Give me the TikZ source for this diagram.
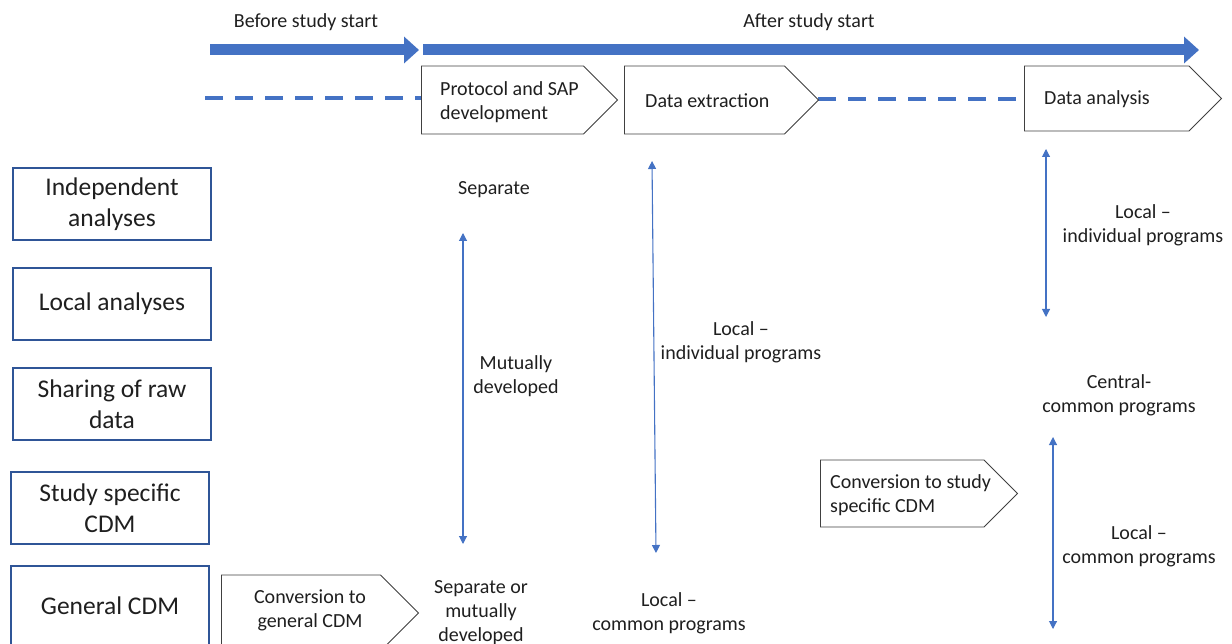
\documentclass[tikz,border=0pt]{standalone}
\usepackage{fontspec}
\setmainfont{Carlito}
\usetikzlibrary{arrows.meta, positioning, shapes.symbols}
\definecolor{barblue}{HTML}{4472C4}
\definecolor{boxblue}{HTML}{2F5597}
\definecolor{inkgray}{HTML}{1F1F1F}
\tikzset{
    txt/.style={font=\fontsize{20}{24}\selectfont, text=inkgray, align=center, inner sep=0pt},
    rowbox/.style={draw=boxblue, line width=2.5pt, minimum width=198pt, minimum height=72pt,
        font=\fontsize{25.5}{31}\selectfont, text=inkgray, align=center},
    stage/.style={signal, signal to=east, signal pointer angle=90, draw=black!75,
        line width=0.9pt, fill=white, anchor=west, minimum height=68pt, inner sep=0pt},
    thickbar/.style={barblue, line width=11pt, -{Triangle[length=15pt, width=26pt]}},
    dashbar/.style={barblue, line width=4.5pt, dash pattern=on 18pt off 12pt},
    twoway/.style={barblue, line width=1.1pt, {Triangle[length=8pt, width=8pt]}-{Triangle[length=8pt, width=8pt]}},
}

\begin{document}
\begin{tikzpicture}[x=1pt, y=-1pt]
    \useasboundingbox (0, 0) rectangle (1232, 644);

    % time line
    \node[txt] (before) at (306, 22) {Before study start};
    \node[txt] (after) at (809, 22) {After study start};
    \coordinate (b0) at (210, 50);
    \coordinate (b1) at (419, 50);
    \coordinate (a0) at (423, 50);
    \coordinate (a1) at (1199, 50);
    \draw[thickbar] (b0) -- (b1);
    \draw[thickbar] (a0) -- (a1);

    % dashed track
    \coordinate (d0) at (205, 98);
    \coordinate (d1) at (421, 98);
    \coordinate (d2) at (818, 99);
    \coordinate (d3) at (1036, 99);
    \draw[dashbar] (d0) -- (d1);
    \draw[dashbar] (d2) -- (d3);

    % stages
    \node[stage, minimum width=196pt] (proto) at (421, 100) {};
    \node[stage, minimum width=194pt] (extract) at (624, 100) {};
    \node[stage, minimum width=197pt, minimum height=65pt] (analysis) at (1024, 98.5) {};
    \node[stage, minimum width=197pt, minimum height=67pt] (convstudy) at (820, 493.5) {};
    \node[stage, minimum width=197pt, minimum height=76pt] (convgen) at (221, 613) {};

    \node[txt, align=left, right=19pt of proto.west, yshift=-2pt] (prototxt) {Protocol and SAP\\development};
    \node[txt, align=left, right=21pt of extract.west, yshift=-1pt] (extracttxt) {Data extraction};
    \node[txt, align=left, right=20pt of analysis.west, yshift=-1pt] (analysistxt) {Data analysis};
    \node[txt, align=left, right=10pt of convstudy.west, yshift=-2pt] (convstudytxt) {Conversion to study\\specific CDM};
    \node[txt] (convgentxt) at (310, 610) {Conversion to\\general CDM};

    % models
    \node[rowbox] (indep) at (112, 204) {Independent\\analyses};
    \node[rowbox] (local) at (112, 304) {Local analyses};
    \node[rowbox] (share) at (112, 404) {Sharing of raw\\data};
    \node[rowbox] (study) at (110, 508) {Study specific\\CDM};
    \node[rowbox, minimum height=80pt] (general) at (110, 606) {General CDM};

    % protocol column
    \node[txt] (sep) at (494, 190) {Separate};
    \node[txt] (mutual) at (516, 376) {Mutually\\developed};
    \node[txt] (sepor) at (481, 613) {Separate or\\mutually\\developed};
    \coordinate (p0) at (463, 233);
    \coordinate (p1) at (463, 544);
    \draw[twoway] (p0) -- (p1);

    % extraction column
    \node[txt] (locind) at (741, 342) {Local --\\individual programs};
    \node[txt] (loccom) at (669, 613) {Local --\\common programs};
    \coordinate (e0) at (652, 161);
    \coordinate (e1) at (656, 553);
    \draw[twoway] (e0) -- (e1);

    % analysis column
    \node[txt] (anaind) at (1143, 225) {Local --\\individual programs};
    \node[txt] (central) at (1119, 395) {Central-\\common programs};
    \node[txt] (anacom) at (1139, 546) {Local --\\common programs};
    \coordinate (c0) at (1046, 149);
    \coordinate (c1) at (1046, 317);
    \coordinate (c2) at (1053, 437);
    \coordinate (c3) at (1053, 629);
    \draw[twoway] (c0) -- (c1);
    \draw[twoway] (c2) -- (c3);
\end{tikzpicture}
\end{document}
